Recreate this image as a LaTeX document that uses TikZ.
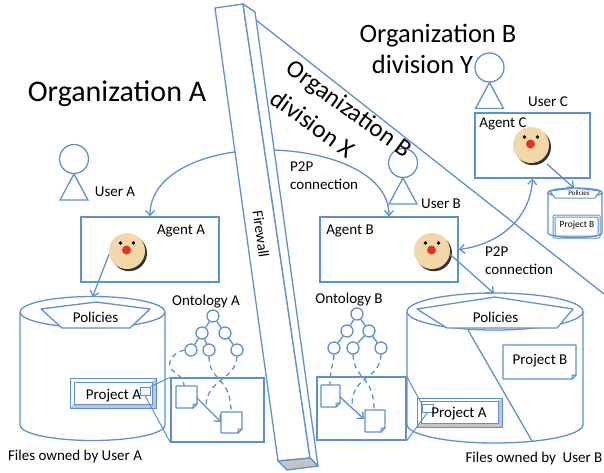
\documentclass[tikz,border=0pt]{standalone}
\usepackage{fontspec}
\setmainfont{Carlito}
\usetikzlibrary{arrows.meta}

\definecolor{wireblue}{RGB}{94,145,209}
\definecolor{skin}{RGB}{242,216,168}
\definecolor{nosered}{RGB}{224,52,36}
\definecolor{bevelgray}{RGB}{196,196,196}

\tikzset{
  wire/.style={draw=wireblue, line width=1.3pt},
  thinwire/.style={draw=wireblue, line width=1pt},
  dashwire/.style={wire, dash pattern=on 5pt off 4pt},
  lbl/.style={font=\fontsize{15}{18}\selectfont, inner sep=0pt},
  tinylbl/.style={font=\fontsize{7}{8}\selectfont, inner sep=0pt},
  smalllbl/.style={font=\fontsize{9.5}{11}\selectfont, inner sep=0pt},
  bigtitle/.style={font=\fontsize{30}{36}\selectfont, inner sep=0pt},
  midtitle/.style={font=\fontsize{26.5}{32}\selectfont, inner sep=0pt},
  slanttitle/.style={font=\fontsize{25}{30}\selectfont, inner sep=0pt, rotate=-36},
  agentbox/.style={wire, rectangle, inner sep=0pt, fill=white},
  tnode/.style={wire, circle, fill=white, minimum size=12pt, inner sep=0pt},
  >={Straight Barb[length=5pt,width=9pt]},
  smiley/.pic={
    \fill[black!80] (2,2.2) circle[radius=18];
    \node[circle, fill=skin, minimum size=36pt, inner sep=0pt] (-face) at (0,0) {};
    \fill[black] (-6.5,-8) circle[radius=1.9];
    \fill[black] (6.5,-8) circle[radius=1.9];
    \fill[nosered] (-0.5,-1) circle[radius=4.5];
  },
  user/.pic={
    \draw[wire] (0,0) circle[radius=14.5];
    \draw[wire] (0,15) -- (-14,41) -- (14,41) -- cycle;
  },
}

% cylinder: left x, right x, top centre y, bottom centre y, y radius
\newcommand\drawcyl[5]{%
  \pgfmathsetmacro\cylcx{(#1+#2)/2}%
  \pgfmathsetmacro\cylrx{(#2-#1)/2}%
  \draw[wire, fill=white] (#1,#3) -- (#1,#4) arc[start angle=180, end angle=0, x radius=\cylrx, y radius=#5] -- (#2,#3);
  \draw[wire, fill=white] (\cylcx,#3) ellipse[x radius=\cylrx, y radius=#5];
}

% document sheet with a folded corner: x1, y1, x2, y2
\newcommand\docsheet[4]{%
  \draw[wire, fill=white, line join=round] (#1,#2) -- (#3,#2) -- (#3,#4-4) -- (#3-4,#4) -- (#1,#4) -- cycle;
  \draw[thinwire, fill=wireblue!35] (#3,#4-4) -- (#3-4,#4-4) -- (#3-4,#4) -- cycle;
}

\begin{document}
\begin{tikzpicture}[x=1pt,y=-1pt]
\useasboundingbox (0,0) rectangle (604,472);
\fill[white] (0,0) rectangle (604,472);

% boundary between division X and division Y
\coordinate (fwSide) at (256,20);
\coordinate (rimRight) at (604,294);
\draw[wire] (fwSide) -- (rimRight);

% agents
\node[agentbox, minimum width=138pt, minimum height=65pt] (agentA) at (150,249.5) {};
\node[agentbox, minimum width=138pt, minimum height=65pt] (agentB) at (389,249.5) {};
\node[agentbox, minimum width=115pt, minimum height=65pt] (agentC) at (532.5,145.5) {};

% P2P link between agent A and agent B, running behind the firewall
\draw[wire, <->] (agentA.north) .. controls (150,175) and (200,152) .. (258,150)
  .. controls (320,148) and (389,170) .. (agentB.north);

% firewall slab
\draw[wire, fill=white, line join=round] (215,8) -- (243,4) -- (310,458) -- (278,461) -- cycle;
\draw[wire, fill=white, line join=round] (243,4) -- (255,12) -- (318,466) -- (310,458) -- cycle;
\draw[wire, fill=bevelgray, line join=round] (278,461) -- (310,458) -- (318,466) -- (287,470) -- cycle;
\node[lbl, rotate=-82] (fwLabel) at (261,234) {Firewall};

% users
\pic at (74,159) {user};
\pic at (403,163) {user};
\pic at (489.5,67.5) {user};

% agent faces
\pic (faceA) at (127,251) {smiley};
\pic (faceB) at (432,251) {smiley};
\pic (faceC) at (531,145) {smiley};

% storage cylinders
\drawcyl{20}{165}{312}{425}{15.5}
\drawcyl{407}{583}{311.5}{424.5}{18.5}
\drawcyl{548}{602}{192.5}{233}{4.5}

% policies lids
\draw[wire, fill=white, line join=round] (41,309) -- (96,302) -- (150,309) -- (130,328) -- (62,328) -- cycle;
\draw[wire, fill=white, line join=round] (417,309) -- (495,297) -- (573,309) -- (557,328) -- (447,328) -- cycle;
\draw[thinwire, fill=white, line join=round] (550,191) -- (575,188) -- (600,191) -- (595,198) -- (555,198) -- cycle;

% split of the storage of user B
\draw[wire] (468,330) -- (532,441);

% project B sheets
\docsheet{503}{345}{576}{379}
\draw[thinwire, rounded corners=1pt] (553,215) rectangle (600,238);
\draw[thinwire, rounded corners=1pt] (555,217) rectangle (598,236);

% project A boxes
\fill[white] (70,378) rectangle (156,408);
\fill[bevelgray] (156,378) -- (156,408) -- (70,408) -- (74,404) -- (152,404) -- (152,382) -- cycle;
\draw[thinwire] (70,378) rectangle (156,408);
\draw[thinwire] (74,382) rectangle (152,404);
\fill[white] (417,398) rectangle (502,427);
\fill[bevelgray] (502,398) -- (502,427) -- (417,427) -- (421,423) -- (498,423) -- (498,401) -- cycle;
\draw[thinwire] (417,398) rectangle (502,427);
\draw[thinwire] (421,401) rectangle (498,423);

% arrows from agents to their storage
\coordinate (cylAtop) at (92.5,297);
\coordinate (cylBtop) at (494,293.5);
\coordinate (cylCtop) at (574,188);
\coordinate (faceCout) at (547,164);
\draw[wire, ->] (faceA-face.190) -- (cylAtop);
\draw[wire, ->] (faceB-face.-10) -- (cylBtop);
\draw[wire, ->] (faceCout) -- (cylCtop);

% P2P link between agent B and agent C
\draw[wire, <->] (agentC.south) .. controls (530,222) and (495,245) .. (agentB.east);

% ontology A
\node[wire, minimum width=93pt, minimum height=64pt, inner sep=0pt] (ontoBoxA) at (217.5,410) {};
\node[tnode] (oa0) at (213,316) {};
\node[tnode] (oa1) at (202,333) {};
\node[tnode] (oa2) at (225,333) {};
\node[tnode] (oa3) at (191,350) {};
\node[tnode] (oa4) at (209,350) {};
\node[tnode] (oa5) at (237,350) {};
\draw[wire] (oa0) -- (oa1);
\draw[wire] (oa0) -- (oa2);
\draw[wire] (oa1) -- (oa3);
\draw[wire] (oa1) -- (oa4);
\draw[wire] (oa2) -- (oa5);
\docsheet{176}{386}{197}{408}
\docsheet{221}{412}{242}{433}
\coordinate (docA1top) at (184,386);
\coordinate (docA2top) at (231,412);
\coordinate (docA1out) at (197,398);
\coordinate (docA2in) at (221,422);
\coordinate (looseA) at (206,406);
\draw[dashwire] (oa3.west) .. controls (172,353) and (166,363) .. (172,370) .. controls (178,375) and (184,378) .. (docA1top);
\draw[dashwire] (oa4.south) .. controls (209,382) and (231,376) .. (docA2top);
\draw[dashwire] (oa5.south) .. controls (236,380) and (207,378) .. (looseA);
\draw[wire, ->] (docA1out) -- (docA2in);

% ontology B
\node[wire, minimum width=89pt, minimum height=63pt, inner sep=0pt] (ontoBoxB) at (361.5,408.5) {};
\node[tnode] (ob0) at (357,314) {};
\node[tnode] (ob1) at (347,331) {};
\node[tnode] (ob2) at (369,331) {};
\node[tnode] (ob3) at (334,348) {};
\node[tnode] (ob4) at (353,348) {};
\node[tnode] (ob5) at (381,348) {};
\draw[wire] (ob0) -- (ob1);
\draw[wire] (ob0) -- (ob2);
\draw[wire] (ob1) -- (ob3);
\draw[wire] (ob2) -- (ob4);
\draw[wire] (ob2) -- (ob5);
\docsheet{321}{385}{340}{407}
\docsheet{365}{410}{385}{432}
\coordinate (docB1top) at (330,385);
\coordinate (docB2top) at (374,410);
\coordinate (docB1out) at (340,397);
\coordinate (docB2in) at (364,419);
\coordinate (looseB) at (352,405);
\draw[dashwire] (ob3.south) .. controls (333,365) and (330,372) .. (docB1top);
\draw[dashwire] (ob4.south) .. controls (354,380) and (374,375) .. (docB2top);
\draw[dashwire] (ob5.south) .. controls (380,380) and (352,375) .. (looseB);
\draw[wire, ->] (docB1out) -- (docB2in);

% callouts from the project A boxes to the ontologies
\node[thinwire, fill=white, minimum width=10pt, minimum height=8pt, inner sep=0pt] (sqA) at (145,391) {};
\node[thinwire, fill=white, minimum width=11pt, minimum height=8pt, inner sep=0pt] (sqB) at (427.5,408) {};
\draw[thinwire] (sqA.north east) -- (ontoBoxA.north west);
\draw[thinwire] (sqA.south) -- (ontoBoxA.south west);
\draw[thinwire] (sqB.north west) -- (ontoBoxB.north east);
\draw[thinwire] (sqB.south) -- (ontoBoxB.south east);

% texts
\node[bigtitle] (orgA) at (117,94) {Organization A};
\node[midtitle] (orgBY1) at (438,36) {Organization B};
\node[midtitle] (orgBY2) at (422.5,64.5) {division Y};
\node[slanttitle] (orgBX1) at (348.5,110) {Organization B};
\node[slanttitle] (orgBX2) at (313,123.5) {division X};

\node[lbl] (userALbl) at (115,192) {User A};
\node[lbl] (userBLbl) at (441,204) {User B};
\node[lbl] (userCLbl) at (548,102) {User C};
\node[lbl] (agentALbl) at (181,231) {Agent A};
\node[lbl] (agentBLbl) at (350,231) {Agent B};
\node[lbl] (agentCLbl) at (503,124) {Agent C};
\node[lbl, align=left, anchor=north west] (p2pAB) at (290,161.5) {P2P\\connection};
\node[lbl, align=left, anchor=north west] (p2pBC) at (485,247) {P2P\\connection};

\node[lbl] (polA) at (95.5,317) {Policies};
\node[lbl] (polB) at (495.5,317) {Policies};
\node[tinylbl] (polC) at (579,193.5) {Policies};
\node[lbl] (ontoALbl) at (206,301.5) {Ontology A};
\node[lbl] (ontoBLbl) at (349,300) {Ontology B};
\node[lbl] (projA1) at (113.5,395.5) {Project A};
\node[lbl] (projA2) at (459,414) {Project A};
\node[lbl] (projB1) at (540,361) {Project B};
\node[smalllbl] (projB2) at (577,225.5) {Project B};
\node[lbl] (filesA) at (75,456.5) {Files owned by User A};
\node[lbl] (filesB) at (534,458) {Files owned by\ \ User B};
\end{tikzpicture}
\end{document}
